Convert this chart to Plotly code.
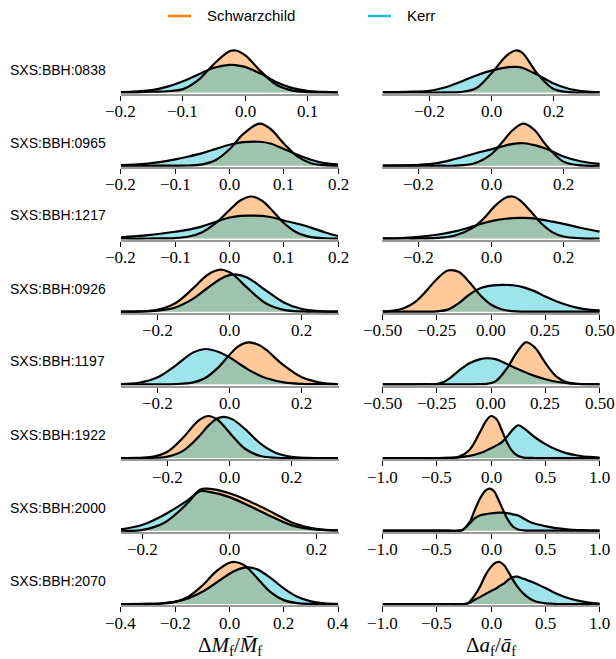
import plotly.graph_objects as go

# ---------------- data ----------------
row_labels = ["SXS:BBH:0838", "SXS:BBH:0965", "SXS:BBH:1217", "SXS:BBH:0926",
              "SXS:BBH:1197", "SXS:BBH:1922", "SXS:BBH:2000", "SXS:BBH:2070"]
series_names = ["Schwarzchild", "Kerr"]

mass_range = [[-0.2, 0.15], [-0.2, 0.2], [-0.2, 0.2], [-0.3, 0.3],
              [-0.3, 0.3], [-0.35, 0.35], [-0.25, 0.25], [-0.4, 0.4]]
spin_range = [[-0.35, 0.35], [-0.3, 0.3], [-0.3, 0.3], [-0.5, 0.5],
              [-0.5, 0.5], [-1.0, 1.0], [-1.0, 1.0], [-1.0, 1.0]]

mass_ticks = [[-0.2, -0.1, 0.0, 0.1], [-0.2, -0.1, 0.0, 0.1, 0.2], [-0.2, -0.1, 0.0, 0.1, 0.2],
              [-0.2, 0.0, 0.2], [-0.2, 0.0, 0.2], [-0.2, 0.0, 0.2], [-0.2, 0.0, 0.2],
              [-0.4, -0.2, 0.0, 0.2, 0.4]]
mass_tick_dec = [1, 1, 1, 1, 1, 1, 1, 1]
spin_ticks = [[-0.2, 0.0, 0.2], [-0.2, 0.0, 0.2], [-0.2, 0.0, 0.2],
              [-0.5, -0.25, 0.0, 0.25, 0.5], [-0.5, -0.25, 0.0, 0.25, 0.5],
              [-1.0, -0.5, 0.0, 0.5, 1.0], [-1.0, -0.5, 0.0, 0.5, 1.0], [-1.0, -0.5, 0.0, 0.5, 1.0]]
spin_tick_dec = [1, 1, 1, 2, 2, 1, 1, 1]

# mass-deviation posteriors (x grid, Schwarzschild density, Kerr density; peak-normalised)
mass_x = [
    [-0.2, -0.175, -0.15, -0.125, -0.1, -0.075, -0.05, -0.025, -0.015, 0.0, 0.025, 0.05, 0.075, 0.1, 0.125, 0.15],
    [-0.2, -0.175, -0.15, -0.125, -0.1, -0.075, -0.05, -0.025, 0.0, 0.025, 0.055, 0.075, 0.1, 0.125, 0.15, 0.175, 0.2],
    [-0.2, -0.15, -0.1, -0.075, -0.05, -0.025, 0.0, 0.02, 0.04, 0.06, 0.08, 0.1, 0.125, 0.15, 0.175, 0.2],
    [-0.3, -0.25, -0.2, -0.15, -0.1, -0.06, -0.025, 0.0, 0.015, 0.05, 0.1, 0.15, 0.2, 0.25, 0.3],
    [-0.3, -0.25, -0.2, -0.15, -0.1, -0.067, -0.03, 0.0, 0.025, 0.052, 0.08, 0.1, 0.15, 0.2, 0.25, 0.3],
    [-0.35, -0.3, -0.25, -0.2, -0.15, -0.1, -0.068, -0.04, -0.019, 0.01, 0.05, 0.1, 0.15, 0.2, 0.25, 0.3, 0.35],
    [-0.25, -0.2, -0.15, -0.1, -0.067, -0.05, 0.0, 0.05, 0.1, 0.15, 0.2, 0.25],
    [-0.4, -0.3, -0.25, -0.2, -0.15, -0.1, -0.05, 0.0, 0.02, 0.05, 0.07, 0.1, 0.15, 0.2, 0.25, 0.3, 0.35, 0.4],
]
mass_S = [
    [0, 0.005, 0.02, 0.03, 0.08, 0.3, 0.68, 0.98, 1.0, 0.89, 0.51, 0.19, 0.05, 0.01, 0.003, 0],
    [0, 0, 0, 0, 0.001, 0.005, 0.032, 0.135, 0.39, 0.75, 1.0, 0.88, 0.53, 0.22, 0.06, 0.012, 0.002],
    [0, 0, 0.011, 0.047, 0.15, 0.37, 0.68, 0.905, 1.0, 0.90, 0.65, 0.37, 0.135, 0.034, 0.006, 0],
    [0, 0.006, 0.044, 0.20, 0.56, 0.88, 1.0, 0.94, 0.85, 0.56, 0.20, 0.044, 0.006, 0, 0],
    [0, 0, 0, 0.004, 0.045, 0.15, 0.41, 0.70, 0.91, 1.0, 0.94, 0.83, 0.45, 0.165, 0.04, 0.006],
    [0, 0.003, 0.028, 0.15, 0.48, 0.89, 1.0, 0.92, 0.77, 0.52, 0.22, 0.047, 0.006, 0, 0, 0, 0],
    [0, 0.02, 0.19, 0.62, 0.98, 1.0, 0.89, 0.68, 0.43, 0.17, 0.045, 0.01],
    [0, 0.002, 0.01, 0.05, 0.18, 0.44, 0.77, 0.98, 1.0, 0.94, 0.84, 0.63, 0.29, 0.092, 0.02, 0.003, 0, 0],
]
mass_K = [
    [0.01, 0.03, 0.06, 0.14, 0.27, 0.43, 0.59, 0.66, 0.65, 0.61, 0.45, 0.25, 0.11, 0.04, 0.015, 0.005],
    [0.015, 0.025, 0.05, 0.09, 0.15, 0.22, 0.30, 0.40, 0.50, 0.56, 0.57, 0.53, 0.40, 0.26, 0.14, 0.06, 0.03],
    [0.03, 0.08, 0.16, 0.21, 0.29, 0.40, 0.50, 0.54, 0.545, 0.54, 0.50, 0.43, 0.35, 0.26, 0.15, 0.06],
    [0, 0.004, 0.023, 0.10, 0.31, 0.57, 0.78, 0.87, 0.89, 0.81, 0.51, 0.22, 0.063, 0.012, 0.001],
    [0.005, 0.036, 0.16, 0.44, 0.76, 0.84, 0.77, 0.64, 0.50, 0.35, 0.22, 0.15, 0.046, 0.01, 0.002, 0],
    [0, 0, 0.004, 0.034, 0.17, 0.50, 0.77, 0.94, 0.98, 0.92, 0.69, 0.34, 0.118, 0.028, 0.004, 0, 0],
    [0.03, 0.14, 0.38, 0.70, 0.94, 0.93, 0.80, 0.57, 0.32, 0.11, 0.025, 0.008],
    [0, 0.005, 0.018, 0.055, 0.14, 0.29, 0.50, 0.72, 0.79, 0.86, 0.87, 0.83, 0.63, 0.37, 0.17, 0.062, 0.017, 0.004],
]

# spin-deviation posteriors
spin_x = [
    [-0.35, -0.3, -0.25, -0.2, -0.15, -0.1, -0.05, 0.0, 0.05, 0.08, 0.1, 0.15, 0.2, 0.25, 0.3, 0.35],
    [-0.3, -0.2, -0.15, -0.1, -0.05, 0.0, 0.03, 0.06, 0.09, 0.12, 0.15, 0.2, 0.25, 0.3],
    [-0.3, -0.25, -0.2, -0.15, -0.1, -0.05, -0.02, 0.01, 0.04, 0.06, 0.08, 0.11, 0.14, 0.17, 0.2, 0.25, 0.3],
    [-0.5, -0.45, -0.4, -0.35, -0.3, -0.25, -0.2, -0.15, -0.1, -0.05, 0.0, 0.05, 0.1, 0.15, 0.2, 0.25, 0.3, 0.35, 0.4, 0.45, 0.5],
    [-0.5, -0.4, -0.3, -0.25, -0.225, -0.2, -0.15, -0.1, -0.05, -0.02, 0.02, 0.07, 0.12, 0.16, 0.2, 0.25, 0.3, 0.35, 0.4, 0.5],
    [-1.0, -0.8, -0.6, -0.4, -0.3, -0.2, -0.1, -0.05, 0.0, 0.05, 0.1, 0.15, 0.2, 0.25, 0.3, 0.4, 0.5, 0.6, 0.7, 0.8, 0.9, 1.0],
    [-1.0, -0.8, -0.6, -0.4, -0.3, -0.27, -0.2, -0.15, -0.1, -0.05, -0.01, 0.03, 0.07, 0.1, 0.15, 0.2, 0.25, 0.3, 0.35, 0.4, 0.5, 0.6, 0.7, 0.8, 0.9, 1.0],
    [-1.0, -0.8, -0.6, -0.4, -0.3, -0.22, -0.15, -0.1, -0.05, 0.0, 0.04, 0.08, 0.12, 0.16, 0.2, 0.24, 0.3, 0.35, 0.4, 0.5, 0.6, 0.7, 0.8, 0.9, 1.0],
]
spin_S = [
    [0, 0, 0, 0, 0.001, 0.011, 0.095, 0.45, 0.88, 1.0, 0.95, 0.44, 0.09, 0.008, 0, 0],
    [0, 0, 0, 0.003, 0.045, 0.27, 0.55, 0.85, 1.0, 0.85, 0.51, 0.097, 0.007, 0],
    [0, 0, 0, 0.015, 0.07, 0.26, 0.48, 0.77, 0.97, 1.0, 0.91, 0.64, 0.35, 0.145, 0.047, 0.004, 0],
    [0.006, 0.026, 0.089, 0.236, 0.49, 0.78, 0.98, 0.95, 0.70, 0.39, 0.165, 0.053, 0.013, 0.002, 0, 0, 0, 0, 0, 0, 0],
    [0, 0, 0, 0, 0, 0, 0, 0, 0.002, 0.01, 0.07, 0.36, 0.77, 1.0, 0.885, 0.51, 0.19, 0.045, 0.007, 0],
    [0, 0, 0, 0.002, 0.026, 0.19, 0.63, 0.87, 1.0, 0.92, 0.65, 0.35, 0.147, 0.047, 0.011, 0, 0, 0, 0, 0, 0, 0],
    [0, 0, 0, 0, 0, 0.01, 0.2, 0.5, 0.78, 0.96, 1.0, 0.93, 0.72, 0.55, 0.28, 0.1, 0.03, 0.008, 0, 0, 0, 0, 0, 0, 0, 0],
    [0, 0, 0, 0, 0, 0.01, 0.21, 0.43, 0.70, 0.89, 0.98, 1.0, 0.92, 0.76, 0.58, 0.42, 0.24, 0.14, 0.07, 0.015, 0, 0, 0, 0, 0],
]
spin_K = [
    [0.01, 0.01, 0.02, 0.04, 0.12, 0.25, 0.40, 0.52, 0.60, 0.61, 0.59, 0.42, 0.22, 0.09, 0.03, 0.01],
    [0.005, 0.02, 0.06, 0.16, 0.28, 0.39, 0.46, 0.52, 0.535, 0.49, 0.41, 0.22, 0.10, 0.045],
    [0.005, 0.01, 0.04, 0.09, 0.17, 0.29, 0.37, 0.43, 0.47, 0.485, 0.49, 0.485, 0.45, 0.40, 0.35, 0.25, 0.165],
    [0, 0, 0, 0, 0.003, 0.01, 0.05, 0.2, 0.41, 0.56, 0.62, 0.64, 0.63, 0.58, 0.49, 0.36, 0.25, 0.16, 0.09, 0.05, 0.03],
    [0, 0, 0.002, 0.006, 0.04, 0.11, 0.32, 0.50, 0.60, 0.62, 0.60, 0.49, 0.37, 0.28, 0.20, 0.12, 0.06, 0.03, 0.01, 0],
    [0, 0, 0, 0.005, 0.015, 0.05, 0.12, 0.17, 0.23, 0.30, 0.38, 0.52, 0.68, 0.78, 0.71, 0.50, 0.33, 0.20, 0.11, 0.06, 0.025, 0.012],
    [0, 0, 0, 0, 0, 0.01, 0.17, 0.3, 0.37, 0.395, 0.41, 0.42, 0.43, 0.43, 0.42, 0.39, 0.36, 0.29, 0.22, 0.17, 0.11, 0.06, 0.03, 0.012, 0.005, 0],
    [0, 0, 0, 0, 0, 0.01, 0.10, 0.17, 0.24, 0.31, 0.36, 0.43, 0.49, 0.58, 0.64, 0.65, 0.60, 0.55, 0.50, 0.38, 0.25, 0.15, 0.08, 0.035, 0.01],
]

# ---------------- styling / layout ----------------
W, H = 616, 659
col_px = [(120.5, 338.5), (382.3, 600.0)]
baselines = [92.5, 165.7, 238.5, 311.7, 384.3, 458.0, 530.7, 604.0]
UNIT = 42.0
YMIN, YMAX = -0.03, 1.1
S_LINE, K_LINE = "#ff7f0e", "#17becf"
S_FILL, K_FILL = "rgba(255,127,14,0.42)", "rgba(23,190,207,0.42)"
TICK_FONT = dict(family="Liberation Serif", size=17, color="black")
TICK_LABEL_OFFSET = 19.0


def fmt(v, d):
    s = f"{v:.{d}f}"
    return s.replace("-", "\u2212")


fig = go.Figure()
layout = dict(width=W, height=H, margin=dict(l=0, r=0, t=0, b=0),
              paper_bgcolor="white", plot_bgcolor="rgba(0,0,0,0)", showlegend=False)
annotations = []

panels = []
for i in range(8):
    panels.append((i, 0, mass_x[i], mass_S[i], mass_K[i], mass_range[i], mass_ticks[i], mass_tick_dec[i]))
    panels.append((i, 1, spin_x[i], spin_S[i], spin_K[i], spin_range[i], spin_ticks[i], spin_tick_dec[i]))

for (i, c, xs, ys, yk, xr, tv, dec) in panels:
    n = 2 * i + c + 1
    xa, ya = f"x{n}", f"y{n}"
    # fills first, outlines on top
    for yv, fc in ((ys, S_FILL), (yk, K_FILL)):
        fig.add_trace(go.Scatter(x=xs, y=yv, xaxis=xa, yaxis=ya, mode="lines",
                                 line=dict(width=0, shape="spline", smoothing=1.0),
                                 fill="tozeroy", fillcolor=fc, hoverinfo="skip"))
    for yv in (ys, yk):
        fig.add_trace(go.Scatter(x=xs, y=yv, xaxis=xa, yaxis=ya, mode="lines",
                                 line=dict(width=2.2, color="black", shape="spline", smoothing=1.0),
                                 hoverinfo="skip"))
    B = baselines[i]
    x0, x1 = col_px[c]
    bot = B + (0 - YMIN) * UNIT
    top = B - YMAX * UNIT
    eps = (xr[1] - xr[0]) * 0.002
    layout[f"xaxis{n}"] = dict(domain=[x0 / W, x1 / W], anchor=ya, range=[xr[0] - eps, xr[1] + eps],
                               tickvals=tv, showticklabels=False,
                               ticks="outside", ticklen=5, tickwidth=1, tickcolor="black",
                               showline=True, linecolor="#9a9a9a", linewidth=2,
                               showgrid=False, zeroline=False,
                               layer="below traces", fixedrange=True)
    layout[f"yaxis{n}"] = dict(domain=[1 - bot / H, 1 - top / H], anchor=xa, range=[YMIN, YMAX],
                               visible=False, fixedrange=True)
    for v in tv:
        annotations.append(dict(text=fmt(v, dec), xref=xa, yref="paper", x=v,
                                y=1 - (B + TICK_LABEL_OFFSET) / H, xanchor="center", yanchor="middle",
                                showarrow=False, font=TICK_FONT))

for i, lab in enumerate(row_labels):
    annotations.append(dict(text=lab, xref="paper", yref="paper", x=8 / W, y=1 - (baselines[i] - 23) / H,
                            xanchor="left", yanchor="middle", showarrow=False,
                            font=dict(family="Liberation Sans", size=14, color="black")))
# axis titles
annotations.append(dict(text="\u0394<i>M</i><sub>f</sub>/<i>M\u0304</i><sub>f</sub>", xref="paper", yref="paper",
                        x=229.5 / W, y=1 - 646 / H, xanchor="center", yanchor="middle", showarrow=False,
                        font=dict(family="Liberation Serif", size=21, color="black")))
annotations.append(dict(text="\u0394<i>a</i><sub>f</sub>/<i>\u0101</i><sub>f</sub>", xref="paper", yref="paper",
                        x=491.2 / W, y=1 - 646 / H, xanchor="center", yanchor="middle", showarrow=False,
                        font=dict(family="Liberation Serif", size=21, color="black")))
# legend
shapes = []
for name, col, lx, tx in ((series_names[0], S_LINE, 168, 205), (series_names[1], K_LINE, 368, 405)):
    shapes.append(dict(type="line", xref="paper", yref="paper", x0=lx / W, x1=(lx + 23) / W,
                       y0=1 - 16 / H, y1=1 - 16 / H, line=dict(color=col, width=2.5)))
    annotations.append(dict(text=name, xref="paper", yref="paper", x=tx / W, y=1 - 16 / H,
                            xanchor="left", yanchor="middle", showarrow=False,
                            font=dict(family="Liberation Sans", size=15, color="black")))

layout["annotations"] = annotations
layout["shapes"] = shapes
fig.update_layout(**layout)
fig.write_html("out.html")
